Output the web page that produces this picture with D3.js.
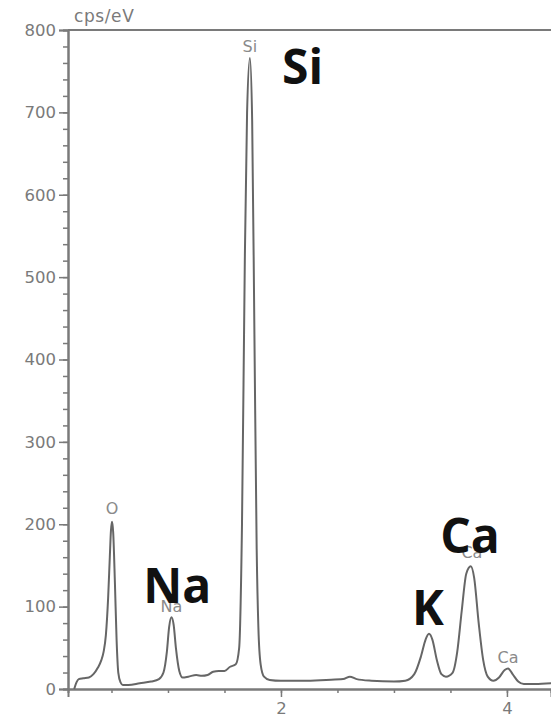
<!DOCTYPE html>
<html>
<head>
<meta charset="utf-8">
<script src="https://cdn.jsdelivr.net/npm/d3@7"></script>
<style>
  body { margin: 0; background: #fff; }
  svg { display: block; }
</style>
</head>
<body>
<div id="chart"></div>
<script>
// EDS spectrum, energy in keV, counts in cps/eV
const energy = [0.17, 0.19, 0.21, 0.25, 0.30, 0.34, 0.38, 0.41, 0.43, 0.45, 0.47, 0.485, 0.495, 0.505, 0.515, 0.53, 0.545, 0.56, 0.58, 0.60,
  0.65, 0.75, 0.85, 0.92, 0.96, 0.99, 1.01, 1.03, 1.05, 1.07, 1.10, 1.13, 1.18, 1.25, 1.30, 1.35, 1.40, 1.45, 1.50, 1.55, 1.60,
  1.63, 1.655, 1.68, 1.70, 1.725, 1.745, 1.765, 1.785, 1.80, 1.82, 1.85, 1.90, 2.0, 2.2, 2.4, 2.55, 2.61, 2.67, 2.8, 3.0, 3.1,
  3.18, 3.24, 3.28, 3.31, 3.34, 3.38, 3.42, 3.46, 3.52, 3.56, 3.60, 3.64, 3.68, 3.71, 3.75, 3.79, 3.83, 3.88, 3.93, 3.98, 4.01,
  4.05, 4.10, 4.15, 4.25, 4.40]
const counts = [0, 8, 12, 13, 14, 18, 26, 35, 45, 65, 110, 160, 192, 203, 190, 130, 60, 20, 8, 5,
  5, 7, 9, 12, 20, 45, 75, 87, 78, 50, 22, 14, 15, 17, 16, 17, 21, 22, 22, 27, 30,
  50, 200, 520, 700, 766, 690, 430, 170, 75, 30, 15, 11, 10, 10, 11, 12, 15, 12, 10, 9, 10,
  18, 40, 60, 67, 60, 35, 18, 15, 20, 45, 95, 140, 149, 135, 80, 35, 15, 10, 14, 23, 25,
  18, 9, 6, 6, 7]

// element markers: [text, energy, counts level of the baseline]
const smallLabels = [['O', 0.505, 212], ['Na', 1.03, 93], ['Si', 1.725, 773], ['Ca', 3.69, 159], ['Ca', 4.01, 32]]
const bigLabels = [['Si', 2.01, 735], ['Na', 0.78, 104], ['K', 3.16, 78], ['Ca', 3.41, 165]]

const yMajor = d3.range(0, 801, 100)
const yMinor = d3.range(0, 801, 20)
const xMajor = [2, 4]
const xMinor = [0.5, 1, 1.5, 2, 2.5, 3, 3.5, 4]

const width = 551, height = 716
const gray = '#7a7a7a'

const x = d3.scaleLinear().domain([0.115, 4.39]).range([68, 551])
const y = d3.scaleLinear().domain([0, 800]).range([689, 30])

const svg = d3.select('#chart').append('svg')
  .attr('width', width)
  .attr('height', height)

// top frame line at 800
svg.append('line')
  .attr('x1', x(0.115)).attr('x2', width)
  .attr('y1', y(800)).attr('y2', y(800))
  .attr('stroke', gray).attr('stroke-width', 2)

// y axis minor + major
svg.append('g').attr('transform', `translate(${x(0.115)},0)`)
  .call(d3.axisLeft(y).tickValues(yMinor).tickSize(5).tickFormat(''))
svg.append('g').attr('transform', `translate(${x(0.115)},0)`)
  .call(d3.axisLeft(y).tickValues(yMajor).tickSize(9).tickPadding(3))

// x axis minor + major
svg.append('g').attr('transform', `translate(0,${y(0)})`)
  .call(d3.axisBottom(x).tickValues(xMinor).tickSize(4).tickFormat(''))
const xMaj = svg.append('g').attr('transform', `translate(0,${y(0)})`)
  .call(d3.axisBottom(x).tickValues(xMajor).tickSize(8).tickFormat(d3.format('d')))

svg.selectAll('.domain').attr('stroke', gray).attr('stroke-width', 2)
svg.selectAll('.tick line').attr('stroke', gray).attr('stroke-width', 1.5)
svg.selectAll('.tick text')
  .attr('fill', gray)
  .style('font-family', 'DejaVu Sans, Verdana, sans-serif')
  .style('font-size', '16.5px')
xMaj.selectAll('.tick text').attr('y', 25).attr('dy', 0)

// unit label
svg.append('text')
  .attr('x', 74).attr('y', 22)
  .attr('fill', gray)
  .style('font-family', 'DejaVu Sans, Verdana, sans-serif')
  .style('font-size', '17px')
  .style('letter-spacing', '0.6px')
  .text('cps/eV')

// spectrum
const pts = energy.map((e, i) => [e, counts[i]])
svg.append('path')
  .datum(pts)
  .attr('fill', 'none')
  .attr('stroke', '#666')
  .attr('stroke-width', 2)
  .attr('stroke-linejoin', 'round')
  .attr('d', d3.line().x(d => x(d[0])).y(d => y(d[1])).curve(d3.curveMonotoneX))

// small gray element markers
svg.selectAll('text.small')
  .data(smallLabels)
  .join('text')
  .attr('class', 'small')
  .attr('x', d => x(d[1]))
  .attr('y', d => y(d[2]))
  .attr('text-anchor', 'middle')
  .attr('fill', '#8a8a8a')
  .style('font-family', 'DejaVu Sans, Verdana, sans-serif')
  .style('font-size', '16px')
  .text(d => d[0])

// big black element labels
svg.selectAll('text.big')
  .data(bigLabels)
  .join('text')
  .attr('class', 'big')
  .attr('x', d => x(d[1]))
  .attr('y', d => y(d[2]))
  .attr('fill', '#111')
  .style('font-family', 'Open Sans, sans-serif')
  .style('font-weight', 700)
  .style('font-size', '48px')
  .text(d => d[0])
</script>
</body>
</html>
